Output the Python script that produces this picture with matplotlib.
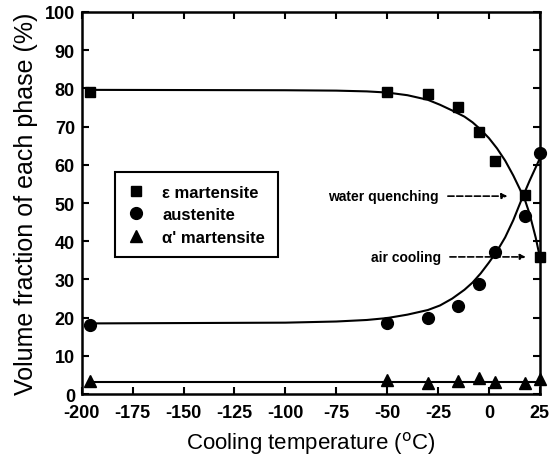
import matplotlib.pyplot as plt

plt.rcParams['font.family'] = ['Liberation Sans', 'DejaVu Sans']
plt.rcParams['axes.unicode_minus'] = False

# measured points
temp = [-196, -50, -30, -15, -5, 3, 18, 25]
eps_mart = [79, 79, 78.5, 75, 68.6, 61, 52, 36]
austenite = [18, 18.6, 19.8, 23, 28.8, 37.2, 46.6, 63]
alpha_mart = [3.4, 3.6, 2.9, 3.5, 4.1, 3.3, 2.9, 3.9]

# fitted curves
eps_curve_x = [-197, -100, -75, -60, -50, -40, -30, -24, -18, -12, -8, -4, 0, 4, 8, 12, 15, 17.6, 20, 23, 25]
eps_curve_y = [79.6, 79.5, 79.4, 79.2, 78.9, 78.2, 77.0, 75.7, 74.2, 72.6, 71.1, 69.2, 67.0, 64.3, 61.1, 57.2, 53.9, 51.0, 47.2, 41.0, 36]
aus_curve_x = [-197, -100, -75, -60, -50, -40, -30, -24, -18, -12, -8, -4, 0, 4, 8, 12, 16, 20, 25]
aus_curve_y = [18.5, 18.7, 19.0, 19.4, 19.9, 20.8, 22.0, 23.2, 25.0, 27.3, 29.2, 31.6, 34.4, 37.4, 41.0, 45.5, 50.8, 55.8, 61.6]
alpha_curve_x = [-197, 25]
alpha_curve_y = [3.3, 3.3]

fig = plt.figure(figsize=(5.53, 4.60), dpi=100)
ax = fig.add_axes([0.148, 0.141, 0.828, 0.831])

ax.plot(eps_curve_x, eps_curve_y, color='black', lw=1.5, clip_on=False)
ax.plot(aus_curve_x, aus_curve_y, color='black', lw=1.5, clip_on=False)
ax.plot(alpha_curve_x, alpha_curve_y, color='black', lw=1.5, clip_on=False)

ax.plot(temp, eps_mart, 's', color='black', ms=7.5, clip_on=False, label='ε martensite')
ax.plot(temp, austenite, 'o', color='black', ms=8.5, clip_on=False, label='austenite')
ax.plot(temp, alpha_mart, '^', color='black', ms=8.5, clip_on=False, label="α' martensite")

# annotations
ax.annotate('', xy=(10.5, 51.8), xytext=(-21.5, 51.8),
            arrowprops=dict(arrowstyle='-|>', ls='--', color='black', lw=1.2, mutation_scale=8))
ax.text(-24.5, 51.8, 'water quenching', ha='right', va='center', fontsize=10, fontweight='bold')
ax.annotate('', xy=(19.5, 35.9), xytext=(-20.5, 35.9),
            arrowprops=dict(arrowstyle='-|>', ls='--', color='black', lw=1.2, mutation_scale=8))
ax.text(-23.5, 35.9, 'air cooling', ha='right', va='center', fontsize=10, fontweight='bold')

ax.set_xlim(-200, 25)
ax.set_ylim(0, 100)
ax.set_xticks(range(-200, 26, 25))
ax.set_yticks(range(0, 101, 10))
ax.tick_params(direction='in', length=5, width=1.5, top=True, right=True, labelsize=13)
ax.tick_params(axis='x', pad=7)
ax.tick_params(axis='y', pad=5)
for lab in ax.get_xticklabels() + ax.get_yticklabels():
    lab.set_fontweight('bold')
for sp in ax.spines.values():
    sp.set_linewidth(1.8)

ax.set_xlabel('Cooling temperature ($^{\\mathrm{o}}$C)', fontsize=16, labelpad=6)
ax.set_ylabel('Volume fraction of each phase (%)', fontsize=18, labelpad=5)

leg = ax.legend(loc='upper left', bbox_to_anchor=(0.072, 0.581), fancybox=False,
                edgecolor='black', framealpha=1, prop={'weight': 'bold', 'size': 12},
                handlelength=1.0, handletextpad=1.1, borderpad=0.75, labelspacing=0.45,
                borderaxespad=0)
leg.get_frame().set_linewidth(1.5)

fig.savefig('out.png', dpi=100)
